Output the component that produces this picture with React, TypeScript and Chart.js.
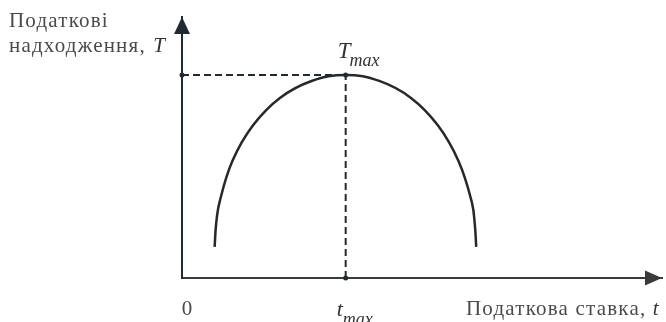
import { useEffect, useRef } from "react";
import { Chart, registerables } from "chart.js";
Chart.register(...registerables);

// Laffer curve (tax rate t, tax revenue T), axis units 0..100
const curveRate = [6.8, 7.1, 7.8, 10.5, 14.8, 20.4, 27.0, 34.1, 41.1, 47.7, 53.3, 57.6, 60.4, 61.0, 61.3];
const curveRevenue = [11.9, 20.5, 28.9, 44.8, 58.5, 69.0, 75.5, 77.8, 75.5, 69.0, 58.5, 44.8, 28.9, 20.5, 11.9];
const tMax = 34.1;
const TMax = 77.8;
const axisMax = [100, 100];

const yLabelLines = ["Податкові", "надходження, "];
const yLabelVar = "T";
const xLabelText = "Податкова ставка, ";
const xLabelVar = "t";
const originLabel = "0";
const peakLabel = ["T", "max"];
const rateLabel = ["t", "max"];

const INK = "#1f2b33";
const TEXT = "#4a4a4a";
const SERIF = "'Liberation Serif', 'Times New Roman', serif";

const overlay = {
  id: "overlay",
  afterDraw(chart: any) {
    const { ctx, chartArea, scales } = chart;
    const x0 = chartArea.left;
    const y0 = chartArea.bottom;
    ctx.save();
    ctx.fillStyle = INK;
    // y arrow
    ctx.beginPath();
    ctx.moveTo(x0, chartArea.top);
    ctx.lineTo(x0 - 8, chartArea.top + 17);
    ctx.lineTo(x0 + 8, chartArea.top + 17);
    ctx.closePath();
    ctx.fill();
    // x arrow
    ctx.fillStyle = "#3a3a3a";
    ctx.beginPath();
    ctx.moveTo(chartArea.right, y0);
    ctx.lineTo(chartArea.right - 17, y0 - 7.5);
    ctx.lineTo(chartArea.right - 17, y0 + 7.5);
    ctx.closePath();
    ctx.fill();

    ctx.textBaseline = "alphabetic";
    ctx.textAlign = "left";
    // y axis title
    ctx.fillStyle = TEXT;
    ctx.font = `21px ${SERIF}`;
    (ctx as any).letterSpacing = "1.2px";
    ctx.fillText(yLabelLines[0], 9, 27);
    ctx.fillText(yLabelLines[1], 9, 52);
    const w1 = ctx.measureText(yLabelLines[1]).width;
    ctx.font = `italic 21px ${SERIF}`;
    ctx.fillStyle = "#333";
    ctx.fillText(yLabelVar, 9 + w1 + 1, 52);

    // x axis title
    ctx.fillStyle = TEXT;
    ctx.font = `21px ${SERIF}`;
    ctx.fillText(xLabelText, 466, 315);
    const w2 = ctx.measureText(xLabelText).width;
    ctx.font = `italic 21px ${SERIF}`;
    ctx.fillStyle = "#333";
    ctx.fillText(xLabelVar, 466 + w2, 315);
    (ctx as any).letterSpacing = "0px";

    // origin
    ctx.fillStyle = TEXT;
    ctx.font = `21px ${SERIF}`;
    ctx.textAlign = "center";
    ctx.fillText(originLabel, x0 + 5, 315);

    // T max
    ctx.textAlign = "left";
    const px = scales.x.getPixelForValue(tMax);
    const py = scales.y.getPixelForValue(TMax);
    ctx.fillStyle = "#333";
    ctx.font = `italic 23px ${SERIF}`;
    ctx.fillText(peakLabel[0], px - 8, py - 17);
    const wT = ctx.measureText(peakLabel[0]).width;
    ctx.font = `italic 18px ${SERIF}`;
    ctx.fillText(peakLabel[1], px - 8 + wT - 1, py - 9);

    // t max
    ctx.font = `italic 22px ${SERIF}`;
    ctx.fillText(rateLabel[0], px - 9, y0 + 38);
    const wt = ctx.measureText(rateLabel[0]).width;
    ctx.font = `italic 18px ${SERIF}`;
    ctx.fillText(rateLabel[1], px - 9 + wt, y0 + 47);
    ctx.restore();
  },
};

export default function App() {
  const ref = useRef<HTMLCanvasElement>(null);
  useEffect(() => {
    if (!ref.current) return;
    const curve = curveRate.map((x, i) => ({ x, y: curveRevenue[i] }));
    const chart = new Chart(ref.current, {
      type: "scatter",
      data: {
        datasets: [
          {
            data: curve,
            showLine: true,
            borderColor: "#23292d",
            borderWidth: 2.5,
            pointRadius: 0,
            tension: 0.4,
            clip: false as any,
          },
          {
            data: [
              { x: 0, y: TMax },
              { x: tMax, y: TMax },
            ],
            showLine: true,
            borderColor: INK,
            borderWidth: 2,
            borderDash: [7, 4],
            pointRadius: [2.5, 0],
            pointBackgroundColor: INK,
            pointBorderWidth: 0,
            clip: false as any,
          },
          {
            data: [
              { x: tMax, y: 0 },
              { x: tMax, y: TMax },
            ],
            showLine: true,
            borderColor: INK,
            borderWidth: 2,
            borderDash: [7, 4],
            pointRadius: [2.5, 2.5],
            pointBackgroundColor: INK,
            pointBorderWidth: 0,
            clip: false as any,
          },
        ],
      },
      options: {
        animation: false,
        responsive: false,
        devicePixelRatio: 1,
        layout: { padding: { left: 182, right: 1, top: 17, bottom: 44 } },
        plugins: { legend: { display: false }, tooltip: { enabled: false } },
        scales: {
          x: {
            type: "linear",
            min: 0,
            max: axisMax[0],
            grid: { display: false },
            ticks: { display: false },
            border: { display: true, color: "#3a3a3a", width: 2 },
            afterFit: (s: any) => {
              s.height = 0;
            },
          },
          y: {
            type: "linear",
            min: 0,
            max: axisMax[1],
            grid: { display: false },
            ticks: { display: false },
            border: { display: true, color: INK, width: 2 },
            afterFit: (s: any) => {
              s.width = 0;
            },
          },
        },
      },
      plugins: [overlay],
    });
    return () => chart.destroy();
  }, []);
  return (
    <div style={{ position: "absolute", left: 0, top: 0, width: 666, height: 322, background: "#fff" }}>
      <canvas ref={ref} width={666} height={322} style={{ display: "block" }} />
    </div>
  );
}
